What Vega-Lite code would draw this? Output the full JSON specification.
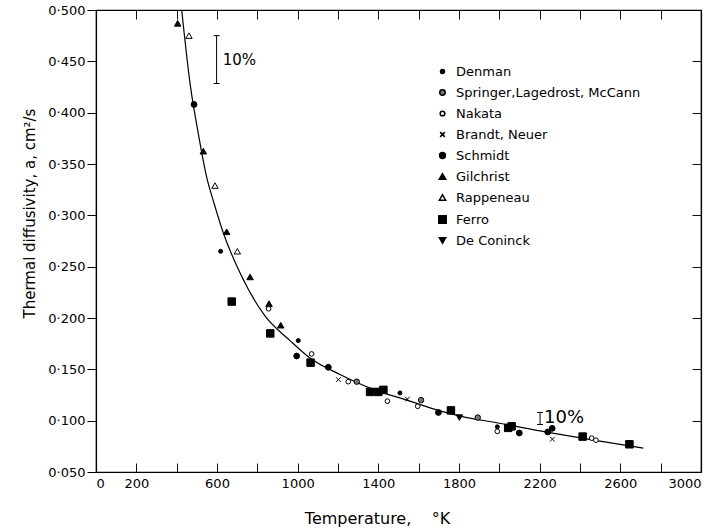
{
  "$schema": "https://vega.github.io/schema/vega-lite/v6.json",
  "width": 605,
  "height": 462,
  "autosize": {"type": "none"},
  "padding": {"left": 96, "top": 10, "right": 21, "bottom": 60},
  "background": "white",
  "config": {
    "view": {"stroke": "black", "strokeWidth": 1.2},
    "font": "DejaVu Sans",
    "axis": {"domainColor": "black", "domainWidth": 1.2, "labelColor": "black", "titleColor": "black", "labelFont": "DejaVu Sans", "titleFont": "DejaVu Sans", "labelFontSize": 13, "titleFontSize": 15, "titleFontWeight": "normal", "grid": false}
  },
  "datasets": {
    "curve": [
      {"T": 425, "a": 0.5}, {"T": 466, "a": 0.429}, {"T": 507, "a": 0.38}, {"T": 549, "a": 0.337},
      {"T": 585, "a": 0.312}, {"T": 631, "a": 0.283}, {"T": 714, "a": 0.244}, {"T": 838, "a": 0.202},
      {"T": 962, "a": 0.178}, {"T": 1061, "a": 0.161}, {"T": 1210, "a": 0.145}, {"T": 1375, "a": 0.1305},
      {"T": 1541, "a": 0.12}, {"T": 1706, "a": 0.1095}, {"T": 1805, "a": 0.1045}, {"T": 1987, "a": 0.098},
      {"T": 2202, "a": 0.09}, {"T": 2301, "a": 0.0867}, {"T": 2499, "a": 0.08}, {"T": 2714, "a": 0.0733}
    ],
    "points": [
      {"source": "Gilchrist", "T": 405, "a": 0.487},
      {"source": "Gilchrist", "T": 532, "a": 0.3625},
      {"source": "Gilchrist", "T": 648, "a": 0.284},
      {"source": "Gilchrist", "T": 764, "a": 0.24},
      {"source": "Gilchrist", "T": 858, "a": 0.214},
      {"source": "Gilchrist", "T": 916, "a": 0.193},
      {"source": "Rappeneau", "T": 461, "a": 0.475},
      {"source": "Rappeneau", "T": 590, "a": 0.329},
      {"source": "Rappeneau", "T": 701, "a": 0.265},
      {"source": "Schmidt", "T": 486, "a": 0.408},
      {"source": "Schmidt", "T": 995, "a": 0.163},
      {"source": "Schmidt", "T": 1152, "a": 0.152},
      {"source": "Schmidt", "T": 1698, "a": 0.108},
      {"source": "Schmidt", "T": 2099, "a": 0.088},
      {"source": "Schmidt", "T": 2240, "a": 0.089},
      {"source": "Schmidt", "T": 2262, "a": 0.0925},
      {"source": "Denman", "T": 618, "a": 0.265},
      {"source": "Denman", "T": 1003, "a": 0.178},
      {"source": "Denman", "T": 1507, "a": 0.127},
      {"source": "Denman", "T": 1990, "a": 0.094},
      {"source": "Ferro", "T": 673, "a": 0.216},
      {"source": "Ferro", "T": 864, "a": 0.185},
      {"source": "Ferro", "T": 1064, "a": 0.1565},
      {"source": "Ferro", "T": 1359, "a": 0.128},
      {"source": "Ferro", "T": 1400, "a": 0.128},
      {"source": "Ferro", "T": 1425, "a": 0.13},
      {"source": "Ferro", "T": 1760, "a": 0.11},
      {"source": "Ferro", "T": 2044, "a": 0.093},
      {"source": "Ferro", "T": 2061, "a": 0.0945},
      {"source": "Ferro", "T": 2413, "a": 0.0845},
      {"source": "Ferro", "T": 2645, "a": 0.077},
      {"source": "Nakata", "T": 856, "a": 0.209},
      {"source": "Nakata", "T": 1069, "a": 0.165},
      {"source": "Nakata", "T": 1251, "a": 0.138},
      {"source": "Nakata", "T": 1445, "a": 0.119},
      {"source": "Nakata", "T": 1595, "a": 0.114},
      {"source": "Nakata", "T": 1990, "a": 0.0896},
      {"source": "Nakata", "T": 2458, "a": 0.083},
      {"source": "Nakata", "T": 2479, "a": 0.081},
      {"source": "Springer,Lagedrost, McCann", "T": 1293, "a": 0.138},
      {"source": "Springer,Lagedrost, McCann", "T": 1612, "a": 0.12},
      {"source": "Springer,Lagedrost, McCann", "T": 1893, "a": 0.103},
      {"source": "Brandt, Neuer", "T": 1202, "a": 0.14},
      {"source": "Brandt, Neuer", "T": 1544, "a": 0.121},
      {"source": "Brandt, Neuer", "T": 2263, "a": 0.082},
      {"source": "De Coninck", "T": 1802, "a": 0.103}
    ],
    "errbars": [
      {"T": 598, "lo": 0.4284, "hi": 0.475},
      {"T": 2202, "lo": 0.0963, "hi": 0.108}
    ],
    "note1": [{"T": 628, "a": 0.451, "text": "10%"}],
    "note2": [{"T": 2222, "a": 0.1025, "text": "10%"}]
  },
  "layer": [
    {
      "data": {"name": "curve"},
      "mark": {"type": "line", "color": "black", "strokeWidth": 1.2, "interpolate": "monotone", "clip": true},
      "encoding": {
        "x": {"field": "T", "type": "quantitative", "scale": {"domain": [0, 3000], "nice": false},
          "axis": {"orient": "bottom", "tickColor": "#111111", "values": [0,200,400,600,800,1000,1200,1400,1600,1800,2000,2200,2400,2600,2800,3000], "format": "d",
            "labelExpr": "(datum.value % 400 == 200 || datum.value == 0) ? datum.label : ''",
            "tickSize": -9, "labelPadding": 14, "title": "Temperature,\u00a0\u00a0\u00a0\u00a0°K", "titlePadding": 20, "titleFontSize": 16, "titleX": 281}},
        "y": {"field": "a", "type": "quantitative", "scale": {"domain": [0.05, 0.5], "nice": false, "zero": false},
          "axis": {"orient": "left", "tickColor": "black", "values": [0.05,0.1,0.15,0.2,0.25,0.3,0.35,0.4,0.45,0.5],
            "labelExpr": "replace(format(datum.value, '.3f'), '.', '·')",
            "tickSize": 9, "labelPadding": 2, "title": "Thermal diffusivity, a, cm²/s", "titlePadding": 10, "titleY": 203}}
      }
    },
    {
      "data": {"name": "points"},
      "mark": {"type": "point", "stroke": "black", "strokeWidth": 1, "opacity": 1},
      "encoding": {
        "x": {"field": "T", "type": "quantitative", "axis": null},
        "y": {"field": "a", "type": "quantitative", "axis": null},
        "shape": {"field": "source", "type": "nominal",
          "scale": {"domain": ["Denman", "Springer,Lagedrost, McCann", "Nakata", "Brandt, Neuer", "Schmidt", "Gilchrist", "Rappeneau", "Ferro", "De Coninck"],
            "range": ["circle", "circle", "circle", "M-1,-1L1,1M-1,1L1,-1", "circle", "triangle-up", "triangle-up", "square", "triangle-down"]},
          "legend": {"orient": "none", "legendX": 340, "legendY": 55, "title": null, "labelFontSize": 13, "labelFont": "DejaVu Sans", "labelColor": "black", "labelLimit": 0, "rowPadding": 7, "labelOffset": 7,
            "encode": {"symbols": {"update": {"stroke": {"value": "black"}, "strokeWidth": {"value": 1}}}}}},
        "fill": {"field": "source", "type": "nominal",
          "scale": {"domain": ["Denman", "Springer,Lagedrost, McCann", "Nakata", "Brandt, Neuer", "Schmidt", "Gilchrist", "Rappeneau", "Ferro", "De Coninck"],
            "range": ["black", "#777777", "white", "black", "black", "black", "white", "black", "black"]},
          "legend": {"orient": "none", "legendX": 340, "legendY": 55, "title": null, "labelFontSize": 13, "labelFont": "DejaVu Sans", "labelColor": "black", "labelLimit": 0, "rowPadding": 7, "labelOffset": 7,
            "encode": {"symbols": {"update": {"stroke": {"value": "black"}, "strokeWidth": {"value": 1}}}}}},
        "size": {"field": "source", "type": "nominal",
          "scale": {"type": "ordinal", "domain": ["Denman", "Springer,Lagedrost, McCann", "Nakata", "Brandt, Neuer", "Schmidt", "Gilchrist", "Rappeneau", "Ferro", "De Coninck"],
            "range": [16, 30, 22, 22, 34, 42, 40, 56, 40]},
          "legend": {"orient": "none", "legendX": 340, "legendY": 55, "title": null, "labelFontSize": 13, "labelFont": "DejaVu Sans", "labelColor": "black", "labelLimit": 0, "rowPadding": 7, "labelOffset": 7,
            "encode": {"symbols": {"update": {"stroke": {"value": "black"}, "strokeWidth": {"value": 1}}}}}}
      }
    },
    {
      "data": {"name": "errbars"},
      "mark": {"type": "rule", "color": "black", "strokeWidth": 1},
      "encoding": {
        "x": {"field": "T", "type": "quantitative", "axis": null},
        "y": {"field": "lo", "type": "quantitative", "axis": null},
        "y2": {"field": "hi"}
      }
    },
    {
      "data": {"name": "errbars"},
      "transform": [{"fold": ["lo", "hi"], "as": ["end", "v"]}],
      "mark": {"type": "point", "shape": "stroke", "size": 36, "stroke": "black", "strokeWidth": 1, "opacity": 1},
      "encoding": {
        "x": {"field": "T", "type": "quantitative", "axis": null},
        "y": {"field": "v", "type": "quantitative", "axis": null}
      }
    },
    {
      "data": {"name": "note1"},
      "mark": {"type": "text", "align": "left", "baseline": "middle", "fontSize": 15, "font": "DejaVu Sans", "color": "black"},
      "encoding": {
        "x": {"field": "T", "type": "quantitative", "axis": null},
        "y": {"field": "a", "type": "quantitative", "axis": null},
        "text": {"field": "text"}
      }
    },
    {
      "data": {"name": "note2"},
      "mark": {"type": "text", "align": "left", "baseline": "middle", "fontSize": 18, "font": "DejaVu Sans", "color": "black"},
      "encoding": {
        "x": {"field": "T", "type": "quantitative", "axis": null},
        "y": {"field": "a", "type": "quantitative", "axis": null},
        "text": {"field": "text"}
      }
    },
    {
      "data": {"name": "curve"},
      "mark": {"type": "line", "opacity": 0},
      "encoding": {
        "x": {"field": "T", "type": "quantitative",
          "axis": {"orient": "top", "tickColor": "#111111", "values": [200,400,600,800,1000,1200,1400,1600,1800,2000,2200,2400,2600,2800], "labels": false, "tickSize": -9, "title": null}},
        "y": {"field": "a", "type": "quantitative",
          "axis": {"orient": "right", "tickColor": "#111111", "values": [0.1,0.15,0.2,0.25,0.3,0.35,0.4,0.45], "labels": false, "tickSize": -9, "title": null}}
      }
    }
  ],
  "resolve": {"axis": {"x": "independent", "y": "independent"}}
}
